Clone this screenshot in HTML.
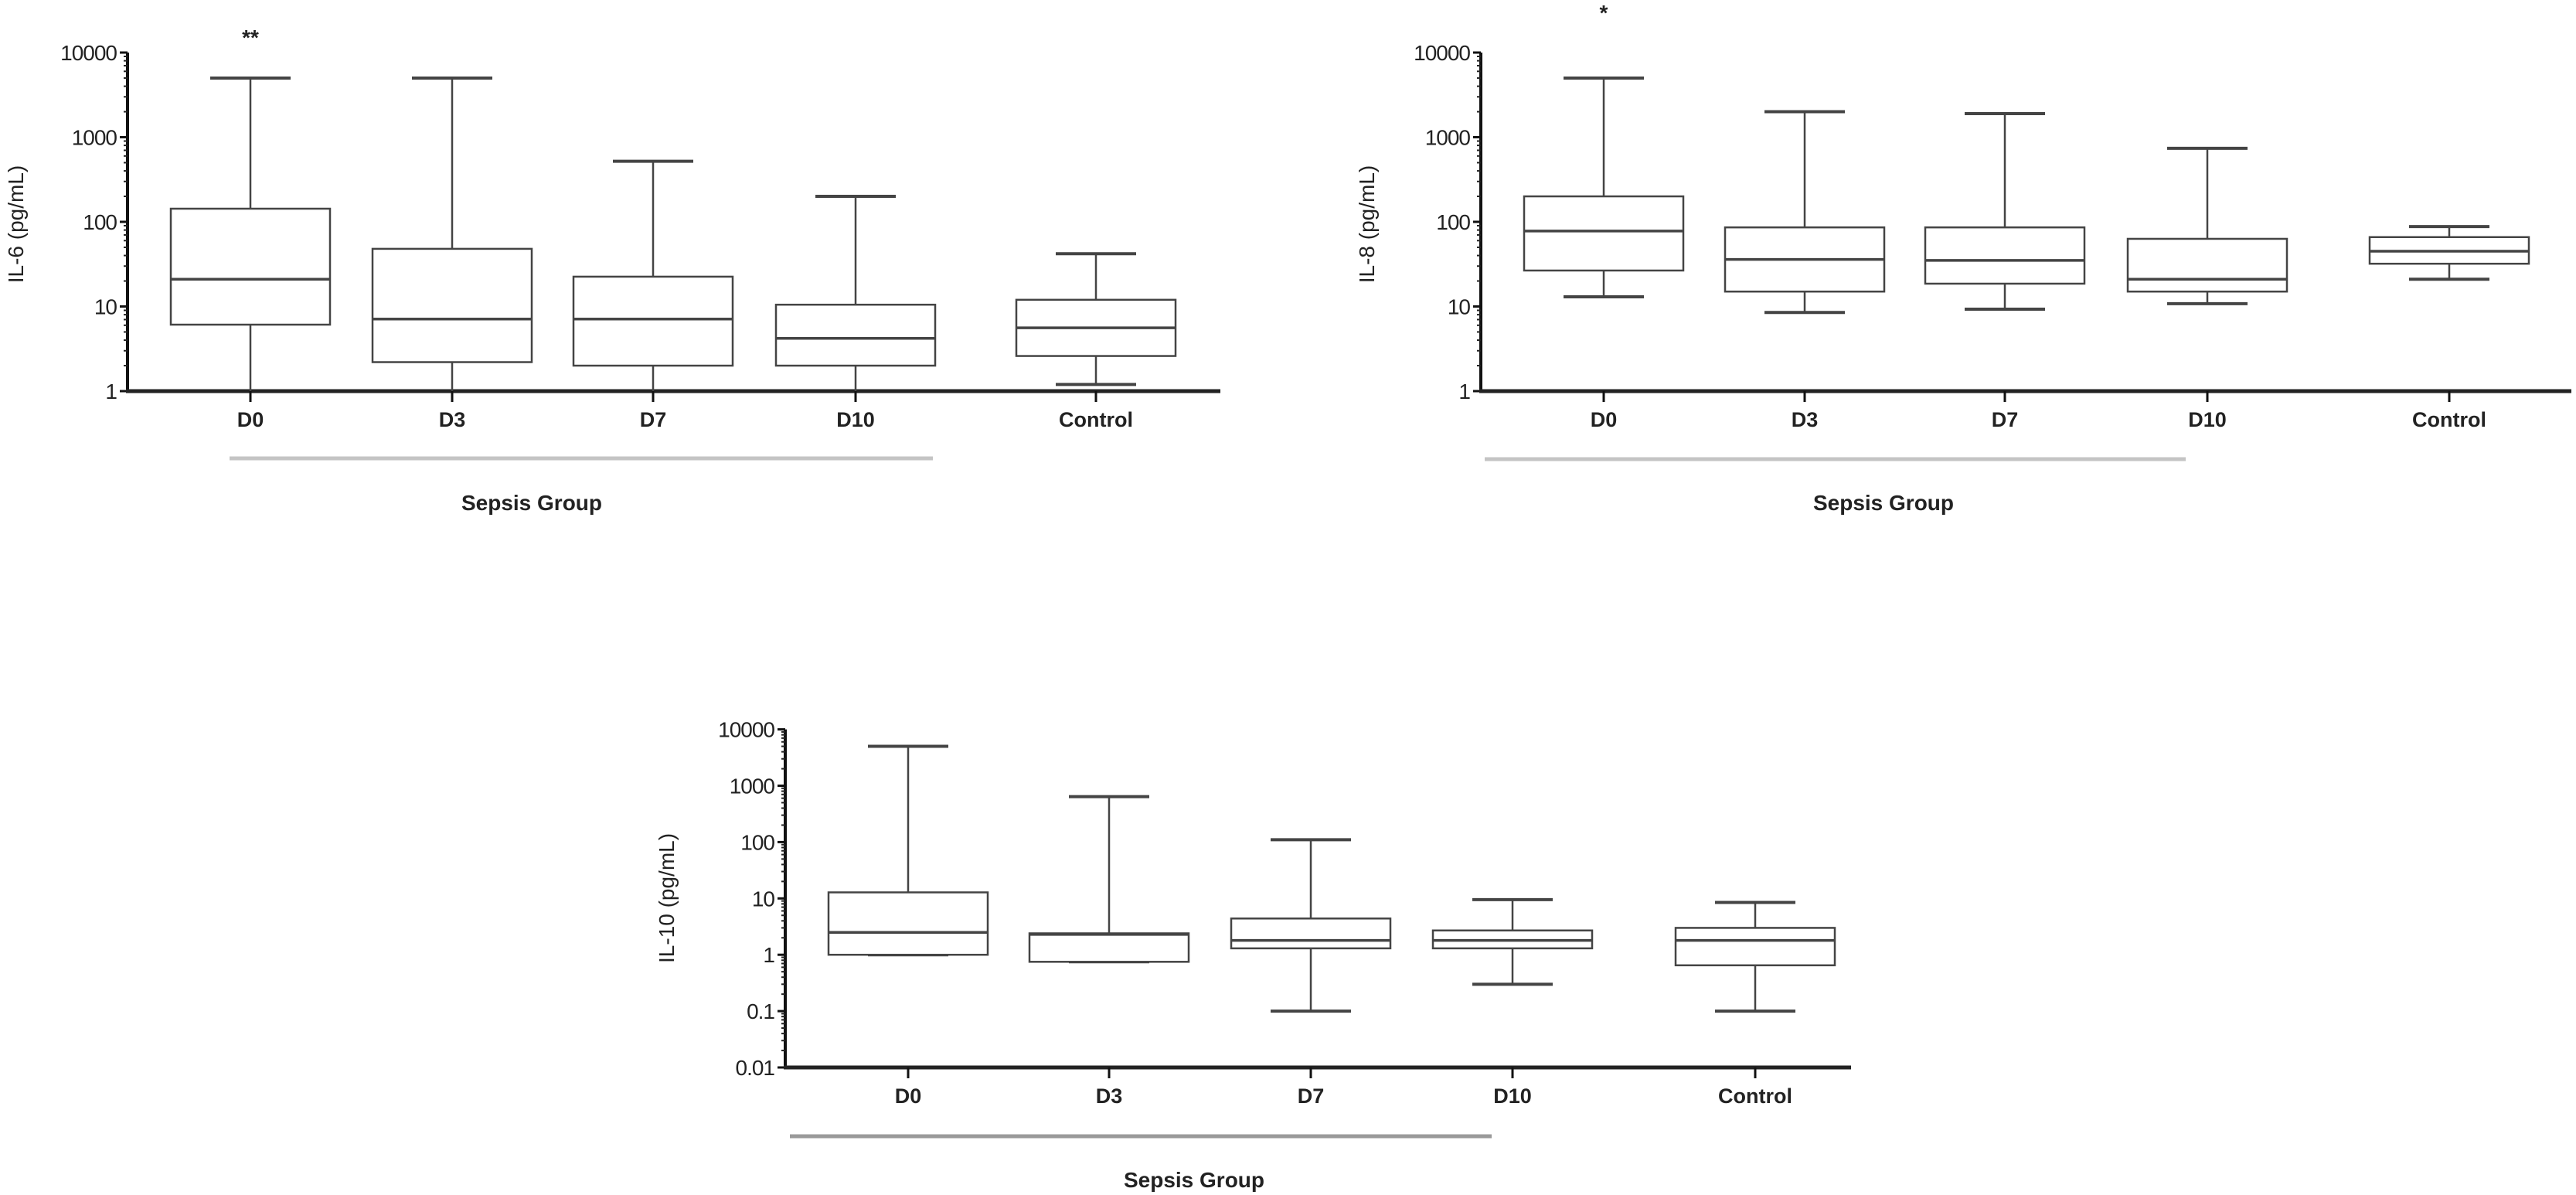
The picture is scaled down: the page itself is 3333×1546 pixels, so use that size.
<!DOCTYPE html>
<html><head><meta charset="utf-8"><style>
html,body{margin:0;padding:0;background:#fff;}
svg{display:block;}
text{font-family:"Liberation Sans",sans-serif;fill:#222;}
</style></head><body>
<svg id="fig" width="3333" height="1546" viewBox="0 0 3333 1546" xmlns="http://www.w3.org/2000/svg"></svg>
<script>
const categories = ["D0","D3","D7","D10","Control"];
// IL-6 [min, q1, median, q3, max]
const il6Min = [1, 1, 1, 1, 1.2];
const il6Q1 = [6.1, 2.2, 2.0, 2.0, 2.6];
const il6Med = [21, 7.1, 7.1, 4.2, 5.6];
const il6Q3 = [143, 48, 22.5, 10.5, 12];
const il6Max = [5000, 5000, 520, 200, 42];
// IL-8
const il8Min = [13, 8.5, 9.3, 10.8, 21];
const il8Q1 = [26.6, 15, 18.6, 15, 32];
const il8Med = [78, 36, 35, 21, 45];
const il8Q3 = [200, 86, 86, 63, 66];
const il8Max = [5000, 2000, 1900, 740, 88];
// IL-10
const il10Min = [1.0, 0.75, 0.1, 0.3, 0.1];
const il10Q1 = [1.0, 0.75, 1.3, 1.3, 0.65];
const il10Med = [2.5, 2.3, 1.8, 1.8, 1.8];
const il10Q3 = [12.8, 2.4, 4.4, 2.7, 3.0];
const il10Max = [5000, 640, 110, 9.5, 8.5];
const tickLabels = ["0.01","0.1","1","10","100","1000","10000"];
const tickValues = [0.01,0.1,1,10,100,1000,10000];

const NS="http://www.w3.org/2000/svg";
const svg=document.getElementById('fig');
function mk(tag,attrs,parent){const e=document.createElementNS(NS,tag);for(const k in attrs)e.setAttribute(k,attrs[k]);(parent||svg).appendChild(e);return e;}

function drawChart(cfg){
  const g=mk('g',{});
  
  
  const y=v=>cfg.yBottom-(Math.log10(v)-Math.log10(cfg.yMin))*cfg.decade;
  const yTop=y(cfg.yMax);
  // y axis
  const ya=mk('line',{x1:cfg.axX,y1:yTop,x2:cfg.axX,y2:cfg.yBottom+2,stroke:'#111','stroke-width':4},g);
  
  
  // minor ticks
  for(let d=Math.log10(cfg.yMin);d<Math.log10(cfg.yMax);d++){
    for(let m=2;m<=9;m++){
      const yy=y(Math.pow(10,d)*m);
      mk('line',{x1:cfg.axX-5,y1:yy,x2:cfg.axX,y2:yy,stroke:'#222','stroke-width':2},g);
    }
  }
  tickValues.forEach((v,i)=>{
    if(v<cfg.yMin-1e-9||v>cfg.yMax+1e-9)return;
    const yy=y(v);
    mk('line',{x1:cfg.axX-10,y1:yy,x2:cfg.axX,y2:yy,stroke:'#111','stroke-width':3},g);
    const t=mk('text',{x:cfg.axX-14,y:yy+10,'text-anchor':'end','font-size':28,'letter-spacing':'-1'},g);
    t.textContent=tickLabels[i];
    
    
  });
  // x axis
  const xa=mk('line',{x1:cfg.axX-2,y1:cfg.yBottom,x2:cfg.axEnd,y2:cfg.yBottom,stroke:'#222','stroke-width':5},g);
  
  
  const d=cfg.data;
  categories.forEach((c,i)=>{
    const cx=cfg.xs[i];
    mk('line',{x1:cx,y1:cfg.yBottom,x2:cx,y2:cfg.yBottom+14,stroke:'#111','stroke-width':3},g);
    const t=mk('text',{x:cx,y:cfg.yBottom+46,'text-anchor':'middle','font-size':27,'font-weight':'bold'},g);
    t.textContent=c;
    
    
    const bg=mk('g',{},g);
    
    
    const st={stroke:'#444','stroke-width':2.5,fill:'none'};
    const yMax=y(d.max[i]),yMinV=y(d.min[i]),yq1=y(d.q1[i]),yq3=y(d.q3[i]),ym=y(d.med[i]);
    mk('line',Object.assign({x1:cx,y1:yMax,x2:cx,y2:yq3},st),bg);
    mk('line',Object.assign({x1:cx,y1:yq1,x2:cx,y2:Math.min(yMinV,cfg.yBottom)},st),bg);
    mk('line',Object.assign({x1:cx-52,y1:yMax,x2:cx+52,y2:yMax},st,{'stroke-width':4}),bg);
    if(yMinV<cfg.yBottom-3)mk('line',Object.assign({x1:cx-52,y1:yMinV,x2:cx+52,y2:yMinV},st,{'stroke-width':4}),bg);
    mk('rect',Object.assign({x:cx-103,y:yq3,width:206,height:Math.max(1,yq1-yq3)},st,{fill:'#fff'}),bg);
    mk('line',Object.assign({x1:cx-103,y1:ym,x2:cx+103,y2:ym},st,{'stroke-width':3.5}),bg);
  });
  // group line
  const gl=mk('line',{x1:cfg.gl[0],y1:cfg.gl[2],x2:cfg.gl[1],y2:cfg.gl[2],stroke:cfg.glColor,'stroke-width':5},g);
  
  
  const sg=mk('text',{x:cfg.sg[0],y:cfg.sg[1]+10,'text-anchor':'middle','font-size':28,'font-weight':'bold'},g);
  sg.textContent='Sepsis Group';
  
  
  const yl=mk('text',{x:0,y:0,'text-anchor':'middle','font-size':28,fill:'#333',transform:`translate(${cfg.yl[0]+10},${cfg.yl[1]}) rotate(-90)`},g);
  yl.textContent=cfg.ylabel;
  
  
  if(cfg.star){
    const s=mk('text',{x:cfg.xs[0],y:cfg.star[1],'text-anchor':'middle','font-size':28,'font-weight':'bold'},g);
    s.textContent=cfg.star[0];
    
    
  }
}

drawChart({name:'il6-chart',axX:165,axEnd:1579,yBottom:506,decade:109.5,yMin:1,yMax:10000,
  xs:[324,585,845,1107,1418],
  data:{min:il6Min,q1:il6Q1,med:il6Med,q3:il6Q3,max:il6Max},
  gl:[297,1207,593],glColor:'#c4c4c4',sg:[688,650],yl:[20,290],ylabel:'IL-6 (pg/mL)',star:['**',58]});
drawChart({name:'il8-chart',axX:1916,axEnd:3327,yBottom:506,decade:109.5,yMin:1,yMax:10000,
  xs:[2075,2335,2594,2856,3169],
  data:{min:il8Min,q1:il8Q1,med:il8Med,q3:il8Q3,max:il8Max},
  gl:[1921,2828,594],glColor:'#c4c4c4',sg:[2437,650],yl:[1768,290],ylabel:'IL-8 (pg/mL)',star:['*',26]});
drawChart({name:'il10-chart',axX:1016,axEnd:2395,yBottom:1381,decade:72.9,yMin:0.01,yMax:10000,
  xs:[1175,1435,1696,1957,2271],
  data:{min:il10Min,q1:il10Q1,med:il10Med,q3:il10Q3,max:il10Max},
  gl:[1022,1930,1470],glColor:'#9a9a9a',sg:[1545,1526],yl:[862,1162],ylabel:'IL-10 (pg/mL)',star:null});
</script>
</body></html>
